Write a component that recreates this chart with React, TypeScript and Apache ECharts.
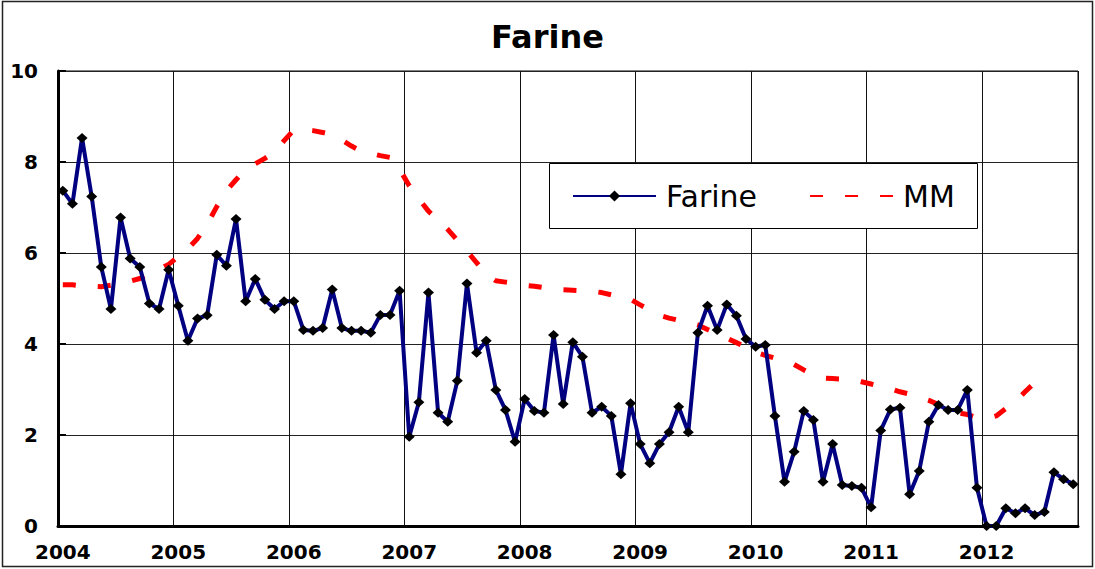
import React, { useEffect, useRef } from "react";
import * as echarts from "echarts";

const years = ["2004", "2005", "2006", "2007", "2008", "2009", "2010", "2011", "2012"];
const months = ["01", "02", "03", "04", "05", "06", "07", "08", "09", "10", "11", "12"];
const monthsInLastYear = 10;

const farine = [
  7.37, 7.08, 8.53, 7.24, 5.69, 4.77, 6.78, 5.88, 5.69, 4.89, 4.77, 5.63,
  4.84, 4.07, 4.56, 4.63, 5.96, 5.72, 6.75, 4.94, 5.43, 4.97, 4.77, 4.94,
  4.94, 4.31, 4.29, 4.35, 5.2, 4.35, 4.29, 4.29, 4.25, 4.64, 4.64, 5.17,
  1.96, 2.72, 5.13, 2.49, 2.29, 3.19, 5.33, 3.81, 4.07, 2.99, 2.55, 1.85,
  2.79, 2.53, 2.49, 4.2, 2.68, 4.04, 3.72, 2.49, 2.62, 2.42, 1.14, 2.7,
  1.8, 1.38, 1.8, 2.06, 2.62, 2.06, 4.25, 4.84, 4.31, 4.87, 4.62, 4.11,
  3.94, 3.98, 2.42, 0.97, 1.63, 2.53, 2.33, 0.97, 1.8, 0.9, 0.88, 0.84,
  0.41, 2.1, 2.56, 2.6, 0.7, 1.21, 2.29, 2.66, 2.55, 2.55, 2.99, 0.84,
  0.0, 0.0, 0.39, 0.28, 0.39, 0.24, 0.31, 1.18, 1.03, 0.92,
];

const mm = [
  5.3, 5.3, 5.28, 5.27, 5.26, 5.29, 5.34, 5.38, 5.44, 5.54, 5.64, 5.75,
  5.92, 6.09, 6.32, 6.63, 7.02, 7.37, 7.61, 7.84, 7.96, 8.08, 8.22, 8.47,
  8.7, 8.72, 8.69, 8.65, 8.6, 8.48, 8.35, 8.24, 8.19, 8.14, 8.1, 7.84,
  7.48, 7.19, 6.92, 6.72, 6.52, 6.28, 6.04, 5.79, 5.53, 5.39, 5.36, 5.33,
  5.29, 5.27, 5.24, 5.21, 5.19, 5.18, 5.17, 5.16, 5.13, 5.08, 5.03, 4.98,
  4.86, 4.75, 4.63, 4.57, 4.52, 4.48, 4.42, 4.32, 4.23, 4.13, 4.03, 3.93,
  3.82, 3.75, 3.69, 3.63, 3.55, 3.43, 3.32, 3.25, 3.24, 3.23, 3.22, 3.17,
  3.12, 3.07, 3.02, 2.95, 2.9, 2.83, 2.76, 2.67, 2.58, 2.49, 2.45, 2.38,
  2.36, 2.42, 2.58, 2.74, 2.95, 3.15, 3.38, null, null, null,
];

const categories: string[] = [];
years.forEach((y, yi) => {
  const n = yi === years.length - 1 ? monthsInLastYear : 12;
  for (let m = 0; m < n; m++) categories.push(`${y}-${months[m]}`);
});

const FONT = "DejaVu Sans";

export default function App() {
  const ref = useRef<HTMLDivElement>(null);
  useEffect(() => {
    if (!ref.current) return;
    const chart = echarts.init(ref.current, undefined, { renderer: "svg" });
    chart.setOption({
      animation: false,
      backgroundColor: "#ffffff",
      title: {
        text: "Farine",
        left: "center",
        top: 16,
        textStyle: { fontFamily: FONT, fontWeight: "bold", fontSize: 32, color: "#000" },
      },
      grid: {
        left: 58,
        right: 17,
        top: 71,
        bottom: 43,
        show: true,
        borderColor: "#000",
        borderWidth: 1,
      },
      legend: {
        data: [
          { name: "Farine" },
          { name: "MM", itemStyle: { color: "rgba(0,0,0,0)", opacity: 0, borderWidth: 0 } },
        ],
        left: 572,
        top: 181,
        padding: 0,
        itemWidth: 83,
        itemHeight: 14,
        itemGap: 52,
        z: 6,
        textStyle: { fontFamily: FONT, fontSize: 30, color: "#000", padding: [0, 0, 0, 5] },
      },
      graphic: [
        {
          type: "rect",
          z: 3,
          shape: { x: 549.5, y: 163.5, width: 428, height: 65 },
          style: { fill: "#fff", stroke: "#000", lineWidth: 1 },
        },
        {
          type: "rect",
          z: 0,
          silent: true,
          shape: { x: 2.5, y: 1.5, width: 1090, height: 565 },
          style: { fill: "none", stroke: "#222", lineWidth: 1.5 },
        },
      ],
      xAxis: {
        type: "category",
        data: categories,
        boundaryGap: true,
        axisLine: { lineStyle: { color: "#000", width: 3 } },
        axisTick: { inside: true, length: 7, interval: 11, lineStyle: { color: "#000", width: 2 } },
        axisLabel: {
          interval: 11,
          formatter: (v: string) => (v.endsWith("-01") ? v.slice(0, 4) : ""),
          fontFamily: FONT,
          fontWeight: "bold",
          fontSize: 20,
          color: "#000",
          margin: 16,
        },
        splitLine: { show: true, interval: 11, lineStyle: { color: "#111", width: 1 } },
      },
      yAxis: {
        type: "value",
        min: 0,
        max: 10,
        interval: 2,
        axisLine: { show: true, lineStyle: { color: "#000", width: 3 } },
        axisTick: { show: true, inside: true, length: 8, lineStyle: { color: "#000", width: 2 } },
        axisLabel: { fontFamily: FONT, fontWeight: "bold", fontSize: 20, color: "#000", margin: 20 },
        splitLine: { show: true, lineStyle: { color: "#222", width: 1 } },
      },
      series: [
        {
          name: "Farine",
          type: "line",
          data: farine,
          symbol: "diamond",
          symbolSize: [11, 10],
          showAllSymbol: true,
          itemStyle: { color: "#000" },
          lineStyle: { color: "#000080", width: 4 },
          z: 3,
        },
        {
          name: "MM",
          type: "line",
          data: mm,
          symbol: "none",
          itemStyle: { color: "#ff0000" },
          lineStyle: { color: "#ff0000", width: 5, type: [13, 22] },
          z: 2,
        },
      ],
    });
    return () => chart.dispose();
  }, []);
  return (
    <div
      ref={ref}
      style={{ position: "absolute", left: 0, top: 0, width: 1095, height: 569, background: "#fff" }}
    />
  );
}
